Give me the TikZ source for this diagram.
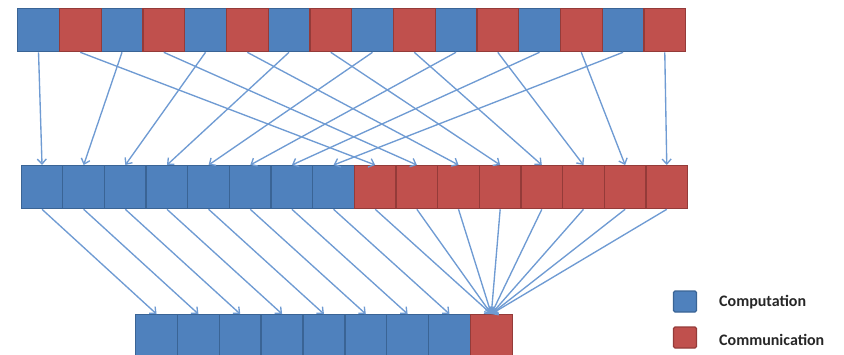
\documentclass[tikz,border=0pt]{standalone}
\usepackage{fontspec}
\setmainfont{Carlito}
\usetikzlibrary{arrows.meta}
\definecolor{cblue}{HTML}{4F81BD}
\definecolor{cblueb}{HTML}{3A6495}
\definecolor{cred}{HTML}{C0504D}
\definecolor{credb}{HTML}{943B39}
\definecolor{arrc}{HTML}{6F9BD3}
\begin{document}
\begin{tikzpicture}[x=1pt,y=-1pt,
  cell/.style={draw, line width=1.3pt, minimum width=41.75pt, minimum height=43pt, inner sep=0pt, anchor=north west},
  comp/.style={cell, fill=cblue, draw=cblueb},
  comm/.style={cell, fill=cred, draw=credb},
  arr/.style={draw=arrc, line width=1.35pt, -{Straight Barb[length=5pt,width=9pt]}},
  legbox/.style={draw, line width=1.2pt, rounded corners=1.5pt, minimum width=23pt, minimum height=21pt, inner sep=0pt},
  legtext/.style={anchor=west, inner sep=0pt, font=\fontsize{16}{18}\selectfont\bfseries, text=black!85}
]
\clip (0,0) rectangle (844,354);
% top row
\foreach \i in {0,2,...,14} {\node[comp] (t\i) at ({17+41.75*\i},8) {};}
\foreach \i in {1,3,...,15} {\node[comm] (t\i) at ({17+41.75*\i},8) {};}
% middle row
\foreach \i in {0,...,7} {\node[comp] (m\i) at ({20.5+41.65*\i},165) {};}
\foreach \i in {8,...,15} {\node[comm] (m\i) at ({20.5+41.65*\i},165) {};}
% bottom row
\foreach \i in {0,...,7} {\node[comp] (b\i) at ({135+41.85*\i},314) {};}
\node[comm] (b8) at ({135+41.85*8},314) {};
% arrows
\foreach \k [evaluate=\k as \e using int(2*\k), evaluate=\k as \o using int(2*\k+1), evaluate=\k as \r using int(8+\k)] in {0,...,7} {
  \draw[arr] (t\e.south) -- (m\k.north);
  \draw[arr] (t\o.south) -- (m\r.north);
  \draw[arr] (m\k.south) -- (b\k.north);
  \draw[arr] (m\r.south) -- (b8.north);
}
% legend
\node[legbox, fill=cblue, draw=cblueb] (lc) at (685,301.5) {};
\node[legbox, fill=cred, draw=credb] (lm) at (685,337.5) {};
\node[legtext] (lct) at (719,302) {Computation};
\node[legtext] (lmt) at (719,340) {Communication};
\end{tikzpicture}
\end{document}
